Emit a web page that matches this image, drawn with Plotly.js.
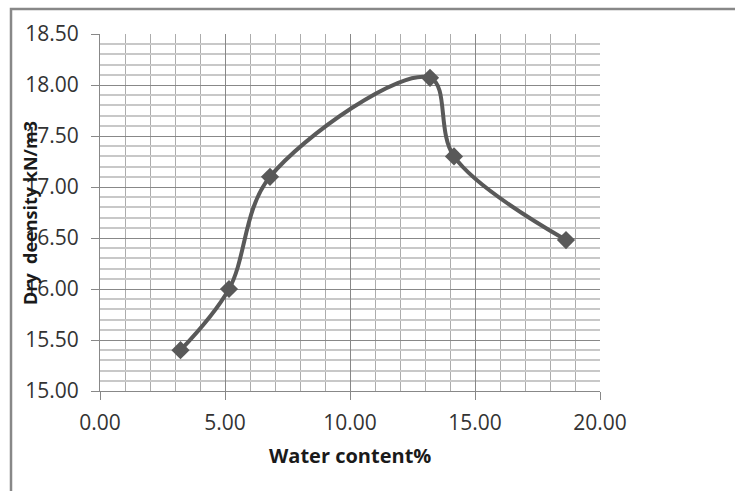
<!DOCTYPE html>
<html>
<head>
<meta charset="utf-8">
<script src="https://cdn.plot.ly/plotly-3.0.1.min.js"></script>
<style>
  html, body { margin: 0; padding: 0; background: #fff; }
  #chart { width: 735px; height: 491px; }
</style>
</head>
<body>
<div id="chart"></div>
<script>
// Data
const waterContent = [3.22, 5.16, 6.80, 13.20, 14.16, 18.64];
const dryDensity   = [15.40, 16.00, 17.10, 18.07, 17.30, 16.48];
const xTitle = 'Water content%';
const yTitle = 'Dry  deensity kN/m3';

const lineColor = '#595959';

const trace = {
  x: waterContent,
  y: dryDensity,
  type: 'scatter',
  mode: 'lines+markers',
  line: { color: lineColor, width: 4, shape: 'spline', smoothing: 1 },
  marker: { symbol: 'diamond', size: 14, color: lineColor },
  hoverinfo: 'x+y'
};

const W = 735, H = 491;
const m = { l: 100, r: 135, t: 34, b: 100 };
const pw = W - m.l - m.r, ph = H - m.t - m.b;
const px = v => (v - m.l) / pw;           // pixel x -> paper x
const py = v => (H - m.b - v) / ph;       // pixel y -> paper y

const layout = {
  width: W, height: H,
  margin: m,
  paper_bgcolor: '#ffffff',
  plot_bgcolor: '#ffffff',
  showlegend: false,
  font: { family: '"Open Sans", sans-serif', color: '#333333' },
  xaxis: {
    range: [0, 20],
    tickmode: 'linear', tick0: 0, dtick: 5,
    tickformat: '.2f',
    ticks: 'outside', ticklen: 8, tickcolor: '#888888', tickwidth: 1,
    showline: true, linecolor: '#888888', linewidth: 1,
    showgrid: true, gridcolor: '#888888', gridwidth: 1,
    minor: { dtick: 1, showgrid: true, gridcolor: '#acacac', gridwidth: 1, ticks: '' },
    zeroline: false,
    tickfont: { size: 21, color: '#333333' },
    ticklabelstandoff: 5,
    fixedrange: true
  },
  yaxis: {
    range: [15, 18.5],
    tickmode: 'linear', tick0: 15, dtick: 0.5,
    tickformat: '.2f',
    ticks: 'outside', ticklen: 8, tickcolor: '#888888', tickwidth: 1,
    showline: true, linecolor: '#888888', linewidth: 1,
    showgrid: true, gridcolor: '#888888', gridwidth: 1,
    minor: { dtick: 0.1, showgrid: true, gridcolor: '#c8c8c8', gridwidth: 1.5, ticks: '' },
    zeroline: false,
    tickfont: { size: 21, color: '#333333' },
    ticklabelstandoff: 8,
    fixedrange: true
  },
  annotations: [
    {
      text: '<b>' + xTitle + '</b>',
      xref: 'paper', yref: 'paper',
      x: px(350), y: py(455),
      xanchor: 'center', yanchor: 'middle',
      showarrow: false,
      font: { size: 20, color: '#1a1a1a', family: '"Open Sans", sans-serif' }
    },
    {
      text: '<b>' + yTitle + '</b>',
      xref: 'paper', yref: 'paper',
      x: px(30), y: py(213),
      xanchor: 'center', yanchor: 'middle',
      textangle: -90,
      showarrow: false,
      font: { size: 18, color: '#1a1a1a', family: '"Open Sans", sans-serif' }
    }
  ],
  shapes: [
    {
      type: 'path', xref: 'paper', yref: 'paper',
      path: 'M ' + px(11) + ',' + py(495) + ' L ' + px(11) + ',' + py(9) + ' L ' + px(740) + ',' + py(9),
      line: { color: '#888888', width: 2.5 }
    }
  ]
};

Plotly.newPlot('chart', [trace], layout, { displayModeBar: false, staticPlot: false });
</script>
</body>
</html>
